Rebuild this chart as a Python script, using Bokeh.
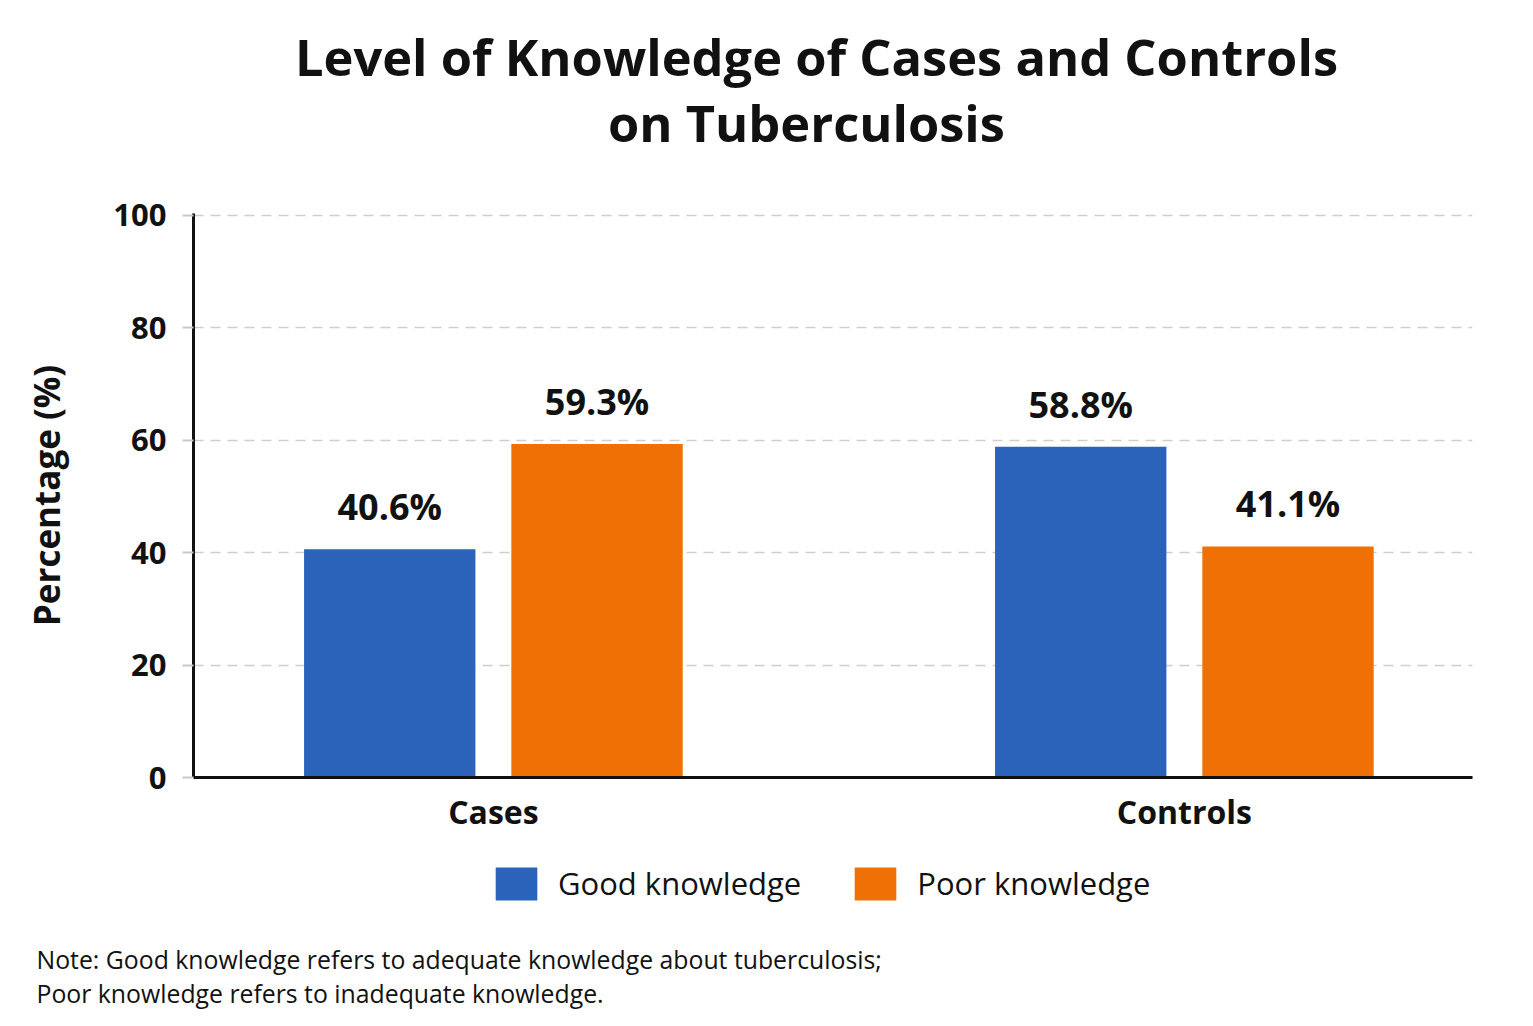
from bokeh.plotting import figure
from bokeh.layouts import column
from bokeh.models import (ColumnDataSource, FixedTicker, Label, Legend, LegendItem,
                          LabelSet)
from bokeh.transform import dodge
from bokeh.core.properties import value
from bokeh.embed import file_html
from bokeh.resources import INLINE

categories = ["Cases", "Controls"]
good_knowledge = [40.6, 58.8]
poor_knowledge = [59.3, 41.1]
y_ticks = [0, 20, 40, 60, 80, 100]
series_names = ["Good knowledge", "Poor knowledge"]
title_lines = ["Level of Knowledge of Cases and Controls", "on Tuberculosis"]
note_lines = ["Note: Good knowledge refers to adequate knowledge about tuberculosis;",
              "Poor knowledge refers to inadequate knowledge."]

FONT = "Open Sans"
BLUE = "#2B63BB"
ORANGE = "#EF7004"
INK = "#111111"
W = 1533


def blank(height):
    f = figure(width=W, height=height, x_range=(0, 1), y_range=(0, 1),
               output_backend="svg", toolbar_location=None,
               x_axis_location=None, y_axis_location=None,
               min_border=0, frame_align=False)
    f.outline_line_color = None
    f.grid.grid_line_color = None
    return f


# ---------- title strip ----------
top = blank(180)
for txt, cx, cy in ((title_lines[0], 816, 124), (title_lines[1], 806, 58)):
    top.add_layout(Label(x=cx, y=cy, x_units="screen", y_units="screen", text=txt,
                         text_align="center", text_baseline="middle",
                         text_font=FONT, text_font_style="bold",
                         text_font_size="50.6px", text_color=INK))

# ---------- main chart ----------
idx = list(range(len(categories)))
src = ColumnDataSource(dict(
    x=idx,
    good=good_knowledge,
    poor=poor_knowledge,
    good_lbl=[f"{v}%" for v in good_knowledge],
    poor_lbl=[f"{v}%" for v in poor_knowledge],
))

p = figure(width=W, height=680, x_range=(-0.434, 1.417), y_range=(0, 100.3),
           output_backend="svg", toolbar_location=None,
           min_border_left=193, min_border_right=61, min_border_top=33,
           min_border_bottom=83, frame_align=False)
p.outline_line_color = None

p.vbar(x=dodge("x", -0.15), top="good", width=0.248, source=src,
       fill_color=BLUE, line_color=None)
p.vbar(x=dodge("x", 0.15), top="poor", width=0.248, source=src,
       fill_color=ORANGE, line_color=None)

for col, lbl, off in (("good", "good_lbl", -0.15), ("poor", "poor_lbl", 0.15)):
    p.add_layout(LabelSet(x=dodge("x", off), y=col, text=lbl, source=src,
                          text_align="center", text_baseline="bottom", y_offset=18,
                          text_font=value(FONT), text_font_style="bold",
                          text_font_size="36px", text_color=INK))

p.xaxis.ticker = FixedTicker(ticks=idx)
p.xaxis.major_label_overrides = {i: c for i, c in zip(idx, categories)}
p.xaxis.major_tick_line_color = None
p.xaxis.minor_tick_line_color = None
p.xaxis.axis_line_width = 3
p.xaxis.axis_line_color = INK
p.xaxis.major_label_text_font = FONT
p.xaxis.major_label_text_font_style = "bold"
p.xaxis.major_label_text_font_size = "32px"
p.xaxis.major_label_text_color = INK
p.xaxis.major_label_standoff = 6

p.yaxis.ticker = FixedTicker(ticks=y_ticks)
p.yaxis.axis_line_width = 3
p.yaxis.axis_line_color = INK
p.yaxis.major_tick_line_color = "#c8c8c8"
p.yaxis.major_tick_line_width = 2
p.yaxis.major_tick_out = 11
p.yaxis.major_tick_in = 0
p.yaxis.minor_tick_line_color = None
p.yaxis.major_label_text_font = FONT
p.yaxis.major_label_text_font_style = "bold"
p.yaxis.major_label_text_font_size = "31px"
p.yaxis.major_label_text_color = INK
p.yaxis.major_label_standoff = 16
p.yaxis.axis_label = "Percentage (%)"
p.yaxis.axis_label_text_font = FONT
p.yaxis.axis_label_text_font_style = "bold"
p.yaxis.axis_label_text_font_size = "35px"
p.yaxis.axis_label_text_color = INK
p.yaxis.axis_label_standoff = 40

p.xgrid.grid_line_color = None
p.ygrid.grid_line_color = "#cfcfcf"
p.ygrid.grid_line_width = 1.5
p.ygrid.grid_line_dash = "10 7"

# ---------- legend + note strip ----------
bottom = blank(166)
# hidden renderers (same data) only supply the legend swatches
sw_good = bottom.vbar(x="x", top="good", width=0.1, source=src,
                      fill_color=BLUE, line_color=None, visible=False)
sw_poor = bottom.vbar(x="x", top="poor", width=0.1, source=src,
                      fill_color=ORANGE, line_color=None, visible=False)
legend = Legend(items=[LegendItem(label=series_names[0], renderers=[sw_good]),
                       LegendItem(label=series_names[1], renderers=[sw_poor])],
                location=(490, 122), orientation="horizontal",
                glyph_width=52, glyph_height=41, label_height=41,
                label_standoff=16, spacing=48,
                padding=0, margin=0, border_line_color=None,
                background_fill_alpha=0, inactive_fill_alpha=0,
                label_text_font=FONT, label_text_font_size="31px",
                label_text_color=INK)
bottom.add_layout(legend, "center")

for txt, cy in ((note_lines[0], 68), (note_lines[1], 34)):
    bottom.add_layout(Label(x=36, y=cy, x_units="screen", y_units="screen", text=txt,
                            text_align="left", text_baseline="middle",
                            text_font=FONT, text_font_size="24.8px",
                            text_color=INK))

layout = column(top, p, bottom, spacing=0)
open("out.html", "w").write(file_html(layout, INLINE))
